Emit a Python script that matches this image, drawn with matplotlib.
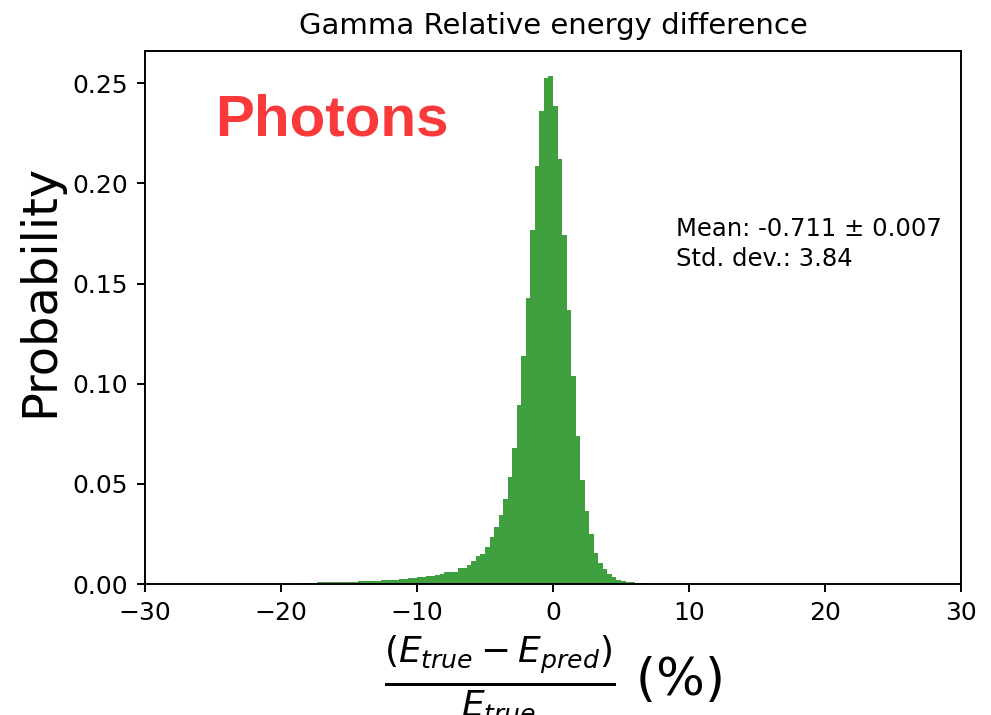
import numpy as np
import matplotlib
matplotlib.use("Agg")
import matplotlib.pyplot as plt

# Histogram: bin width 1/3 over the relative energy difference (%), density heights
bin_width = 1.0 / 3.0
first_edge = -18.0 - 2.0 / 3.0
heights = [
    0.0006, 0.0006, 0.0007, 0.0007, 0.0008, 0.0008, 0.0009, 0.0009, 0.0010, 0.0010,
    0.0011, 0.0011, 0.0012, 0.0013, 0.0014, 0.0015, 0.0016, 0.0017, 0.0018, 0.0019,
    0.0020, 0.0022, 0.0024, 0.0026, 0.0028, 0.0030, 0.0033, 0.0036, 0.0039, 0.0042,
    0.0046, 0.0051, 0.0058, 0.0060, 0.0061, 0.0078, 0.0081, 0.0095, 0.0115, 0.0141,
    0.0148, 0.0186, 0.0236, 0.0286, 0.0344, 0.0423, 0.0532, 0.0677, 0.0893, 0.1138,
    0.1429, 0.1770, 0.2086, 0.2360, 0.2525, 0.2535, 0.2385, 0.2121, 0.1742, 0.1367,
    0.1039, 0.0740, 0.0520, 0.0365, 0.0250, 0.0157, 0.0106, 0.0075, 0.0050, 0.0035,
    0.0022, 0.0015, 0.0011, 0.0009, 0.0007, 0.0005, 0.0004,
]
edges = first_edge + bin_width * np.arange(len(heights) + 1)
centers = 0.5 * (edges[:-1] + edges[1:])

title = "Gamma Relative energy difference"
ylabel = "Probability"
xlabel = r"$\frac{(E_{true} - E_{pred})}{E_{true}}$ (%)"
stats_text = "Mean: -0.711 \u00b1 0.007\nStd. dev.: 3.84"
tag_text = "Photons"

plt.rcParams["font.family"] = ["DejaVu Sans"]
plt.rcParams["axes.linewidth"] = 1.4
plt.rcParams["xtick.major.width"] = 1.4
plt.rcParams["ytick.major.width"] = 1.4
plt.rcParams["xtick.major.size"] = 6.1
plt.rcParams["ytick.major.size"] = 6.1

fig = plt.figure(figsize=(9.91, 7.15), dpi=100)
ax = fig.add_axes([0.1463, 0.1832, 0.8234, 0.7455])

ax.hist(centers, bins=edges, weights=heights, color="g", alpha=0.75)

ax.set_xlim(-30, 30)
ax.set_xticks([-30, -20, -10, 0, 10, 20, 30])
ax.set_yticks([0.0, 0.05, 0.10, 0.15, 0.20, 0.25])
ax.set_yticklabels(["0.00", "0.05", "0.10", "0.15", "0.20", "0.25"])
ax.tick_params(labelsize=18, pad=6)

ax.set_title(title, fontsize=21, pad=12)
ax.set_ylabel(ylabel, fontsize=34.5)
ax.yaxis.set_label_coords(-0.100, 0.551)
ax.set_xlabel(xlabel, fontsize=37, labelpad=6)

ax.text(0.0858, 0.842, tag_text, transform=ax.transAxes, color="#fa3a3a",
        fontsize=42, fontweight="bold", family="Liberation Sans",
        ha="left", va="baseline")
ax.text(0.651, 0.688, stats_text, transform=ax.transAxes, fontsize=17.5,
        ha="left", va="top", linespacing=1.3)

fig.savefig("out.png", dpi=100)
